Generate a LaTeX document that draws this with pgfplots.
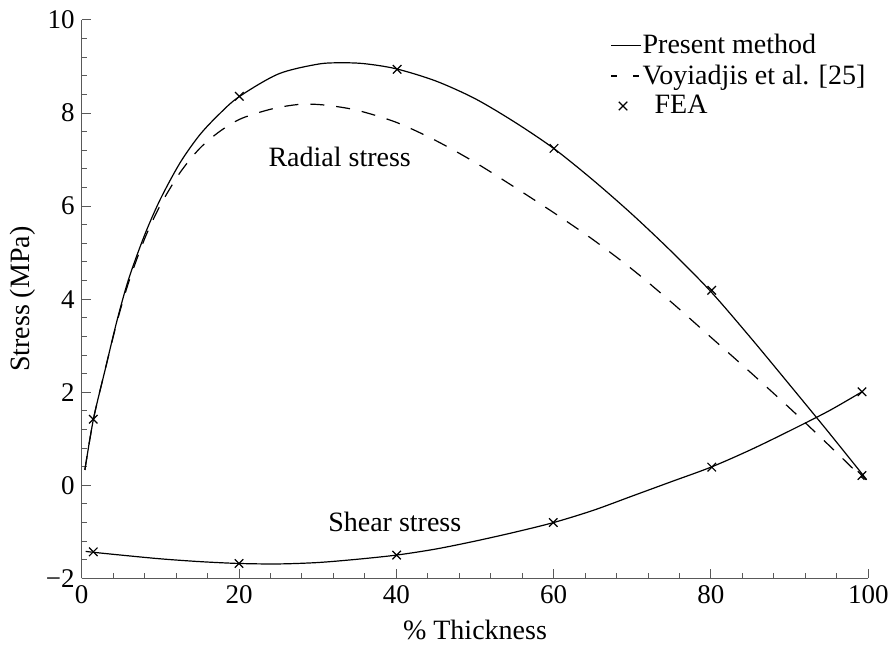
\documentclass[border=0pt]{standalone}
\usepackage{pgfplots}
\pgfplotsset{compat=1.18}
\usepackage{fontspec}
\setmainfont{Liberation Serif}

\begin{document}
\begin{tikzpicture}
\begin{axis}[
  scale only axis,
  width=393.3pt, height=279.2pt,
  xmin=0, xmax=100, ymin=-2, ymax=10,
  axis x line=bottom, axis y line=left,
  axis line style={-, draw=black!65},
  every tick/.style={black!65, line width=0.5pt},
  tick align=inside,
  major tick length=4.5pt, minor tick length=2.5pt,
  xtick={0,20,...,100}, minor x tick num=4,
  ytick={-2,0,2,4,6,8,10}, minor y tick num=4,
  xticklabels={0,20,40,60,80,100},
  yticklabels={−2,0,2,4,6,8,10},
  tick label style={font=\fontsize{13.5}{15}\selectfont},
  xlabel={\% Thickness},
  ylabel={Stress (MPa)},
  every axis x label/.style={at={(rel axis cs:0.5,-0.093)}, anchor=center,
    font=\fontsize{14}{16}\selectfont},
  every axis y label/.style={at={(rel axis cs:-0.0746,0.5)}, rotate=90, anchor=center,
    font=\fontsize{14}{16}\selectfont},
  clip=false,
  legend style={draw=none, fill=none, at={(rel axis cs:0.998,0.982)}, anchor=north east,
    font=\fontsize{14}{16}\selectfont, inner sep=0pt, row sep=0pt,
    nodes={inner xsep=0.5pt}},
  legend cell align=left,
  legend image code/.code={\draw[mark repeat=2, mark phase=2, #1]
    plot coordinates {(0pt,0pt) (6pt,0pt) (15pt,0pt)};},
]
% Present method - radial stress
\addplot[black, line width=0.6pt, smooth, tension=0.5] coordinates {
  (0.4,0.33) (1.5,1.43) (3,2.5) (4.5,3.55) (6,4.45) (8,5.38) (10,6.15)
  (12.5,6.93) (15,7.53) (17.5,7.98) (20,8.35) (25,8.84) (30,9.05)
  (33,9.08) (36,9.06) (40,8.95) (45,8.69) (50,8.31) (55,7.81) (60,7.24)
  (65,6.56) (70,5.82) (75,5.02) (80,4.16) (85,3.18) (90,2.16) (95,1.13)
  (99.8,0.12)};
\addlegendentry{Present method}
% Voyiadjis et al. - radial stress
\addplot[black, line width=0.6pt, smooth, tension=0.5, dash pattern=on 7pt off 6pt,
  legend image code/.code={\draw[black, line width=0.6pt, dash pattern=on 3pt off 8pt]
    (0pt,0pt) -- (15pt,0pt);}] coordinates {
  (0.4,0.33) (1.5,1.43) (3,2.5) (4.5,3.52) (6,4.38) (8,5.3) (10,6.02)
  (12.5,6.72) (15,7.24) (17.5,7.6) (20,7.86) (22.5,8.01) (25,8.12)
  (28,8.19) (31,8.17) (35,8.06) (40,7.8) (45,7.41) (50,6.94) (55,6.41)
  (60,5.86) (65,5.28) (70,4.64) (75,3.93) (80,3.18) (85,2.43) (90,1.66)
  (95,0.86) (99.5,0.12)};
\addlegendentry{Voyiadjis et al. [25]}
% FEA - radial stress
\addplot[black, only marks, mark=x, mark size=3pt, line width=0.6pt] coordinates {
  (1.47,1.42) (20.04,8.36) (40.1,8.94) (60.04,7.24) (80.1,4.19) (99.2,0.21)};
\addlegendentry{\hspace*{6pt}FEA}
% Present method - shear stress
\addplot[black, line width=0.6pt, smooth, tension=0.5, forget plot] coordinates {
  (0.5,-1.42) (1.5,-1.44) (5,-1.5) (10,-1.58) (15,-1.64) (20,-1.68)
  (25,-1.69) (30,-1.66) (35,-1.59) (40,-1.5) (45,-1.37) (50,-1.2)
  (55,-1.01) (60,-0.8) (65,-0.54) (70,-0.23) (75,0.08) (80,0.39)
  (85,0.76) (90,1.17) (95,1.6) (99.2,2.01)};
% FEA - shear stress
\addplot[black, only marks, mark=x, mark size=3pt, line width=0.6pt, forget plot] coordinates {
  (1.47,-1.43) (20.0,-1.68) (40.04,-1.50) (59.95,-0.80) (80.1,0.39) (99.2,2.01)};
\node[font=\fontsize{14}{16}\selectfont] at (axis cs:32.8,7.06) {Radial stress};
\node[font=\fontsize{14}{16}\selectfont] at (axis cs:39.8,-0.79) {Shear stress};
\coordinate (bbl) at (rel axis cs:-0.1039,-0.1248);
\coordinate (btr) at (rel axis cs:1.0276,1.0358);
\end{axis}
\pgfresetboundingbox
\path[use as bounding box] (bbl) rectangle (btr);
\end{tikzpicture}
\end{document}
